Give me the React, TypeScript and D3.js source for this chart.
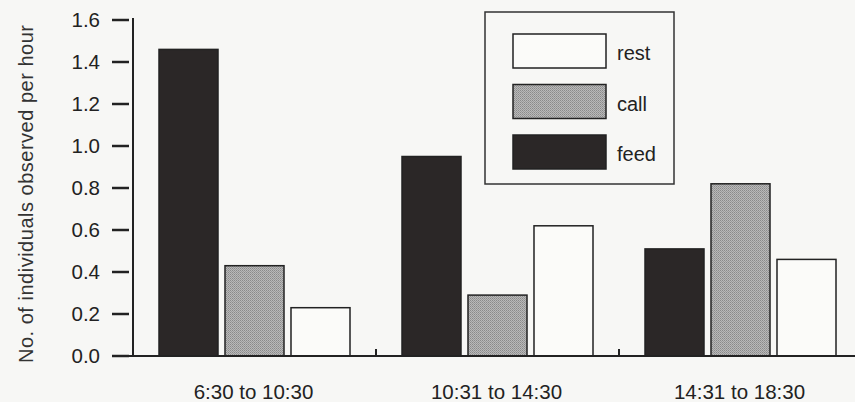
import React from "react";
import * as d3 from "d3";

const categories = ["6:30 to 10:30", "10:31 to 14:30", "14:31 to 18:30"];
const seriesNames = ["feed", "call", "rest"];
const feed = [1.46, 0.95, 0.51];
const call = [0.43, 0.29, 0.82];
const rest = [0.23, 0.62, 0.46];
const yTicks = [0, 0.2, 0.4, 0.6, 0.8, 1.0, 1.2, 1.4, 1.6];
const legendOrder = ["rest", "call", "feed"];

const W = 855;
const H = 402;

export default function App() {
  const x0 = d3.scaleBand<string>().domain(categories).range([133, 862]).paddingInner(0).paddingOuter(0);
  const x1 = d3.scaleBand<string>().domain(seriesNames).range([26, 217]).paddingInner(0.106).paddingOuter(0);
  const y = d3.scaleLinear().domain([0, 1.6]).range([356, 20]);
  const values: Record<string, number[]> = { feed, call, rest };
  const fills: Record<string, string> = { feed: "#2b2727", call: "url(#stipple)", rest: "#fbfbf9" };
  const font = "'Liberation Sans', Arial, sans-serif";
  const fs = 20.5;

  return (
    <svg width={W} height={H} style={{ position: "absolute", left: 0, top: 0, background: "#f7f7f5" }}>
      <defs>
        <pattern id="stipple" width="2" height="2" patternUnits="userSpaceOnUse">
          <rect width="2" height="2" fill="#b9b9b9" />
          <rect width="1" height="1" fill="#8a8a8a" />
          <rect x="1" y="1" width="1" height="1" fill="#9a9a9a" />
        </pattern>
      </defs>
      <rect width={W} height={H} fill="#f7f7f5" />
      {categories.map((c, i) =>
        seriesNames.map((s) => {
          const v = values[s][i];
          const bx = (x0(c) as number) + (x1(s) as number);
          return (
            <rect
              key={c + s}
              x={bx}
              y={y(v)}
              width={x1.bandwidth()}
              height={y(0) - y(v)}
              fill={fills[s]}
              stroke="#222"
              strokeWidth={1.5}
            />
          );
        })
      )}
      <line x1={133} x2={133} y1={y(1.6) - 2} y2={y(0)} stroke="#222" strokeWidth={2} />
      <line x1={113} x2={W} y1={y(0)} y2={y(0)} stroke="#222" strokeWidth={2} />
      {yTicks.map((t) => (
        <g key={t}>
          <line x1={112} x2={129} y1={y(t)} y2={y(t)} stroke="#222" strokeWidth={2.5} />
          <text x={100} y={y(t)} dy="0.36em" textAnchor="end" fontFamily={font} fontSize={fs} fill="#222">
            {t.toFixed(1)}
          </text>
        </g>
      ))}
      {categories.slice(1).map((c) => (
        <line key={c} x1={x0(c) as number} x2={x0(c) as number} y1={y(0)} y2={y(0) - 7} stroke="#222" strokeWidth={2} />
      ))}
      {categories.map((c) => (
        <text
          key={c}
          x={(x0(c) as number) + x0.bandwidth() / 2 - 1}
          y={399}
          textAnchor="middle"
          fontFamily={font}
          fontSize={fs}
          fill="#222"
        >
          {c}
        </text>
      ))}
      <text
        transform={`translate(33,194) rotate(-90)`}
        textAnchor="middle"
        fontFamily={font}
        fontSize={20}
        fill="#333"
        textLength={338}
        lengthAdjust="spacing"
      >
        No. of individuals observed per hour
      </text>
      <rect x={485} y={12} width={189} height={172} fill="none" stroke="#333" strokeWidth={1.5} />
      {legendOrder.map((s, i) => {
        const ly = 34 + i * 50.5;
        return (
          <g key={s}>
            <rect x={513} y={ly} width={93} height={34} fill={fills[s]} stroke="#222" strokeWidth={1.5} />
            <text x={617} y={ly + 19} dy="0.36em" fontFamily={font} fontSize={20} fill="#222">
              {s}
            </text>
          </g>
        );
      })}
    </svg>
  );
}
